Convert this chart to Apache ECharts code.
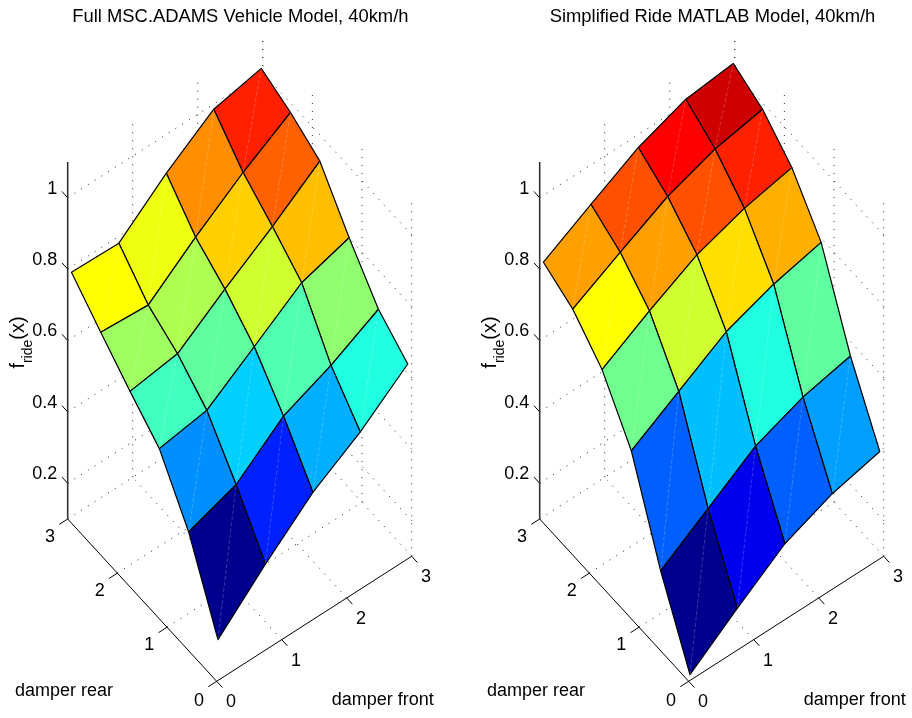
<!DOCTYPE html>
<html>
<head>
<meta charset="utf-8">
<style>
  html, body { margin: 0; padding: 0; background: #fff; }
  #chart { width: 912px; height: 718px; }
</style>
<script src="https://cdn.jsdelivr.net/npm/echarts@6/dist/echarts.min.js"></script>
</head>
<body>
<div id="chart"></div>
<script>
// damper settings of the surface mesh
const frontVals = [0.05, 0.78, 1.51, 2.24, 2.97];
const rearVals = [0.04, 0.63, 1.22, 1.81, 2.40, 2.99];

// f_ride per front setting (row) and rear setting (column)
const adamsFront0 = [0.205, 0.417, 0.561, 0.632, 0.708, 0.787];
const adamsFront1 = [0.331, 0.464, 0.583, 0.652, 0.699, 0.783];
const adamsFront2 = [0.447, 0.571, 0.676, 0.748, 0.804, 0.894];
const adamsFront3 = [0.531, 0.628, 0.770, 0.838, 0.900, 0.988];
const adamsFront4 = [0.636, 0.700, 0.811, 0.936, 0.983, 1.017];

const matlabFront0 = [0.107, 0.308, 0.555, 0.693, 0.773, 0.815];
const matlabFront1 = [0.208, 0.397, 0.636, 0.772, 0.847, 0.892];
const matlabFront2 = [0.303, 0.487, 0.718, 0.844, 0.918, 0.966];
const matlabFront3 = [0.358, 0.539, 0.766, 0.889, 0.966, 1.016];
const matlabFront4 = [0.391, 0.569, 0.798, 0.918, 0.992, 1.031];

const adamsZ = [adamsFront0, adamsFront1, adamsFront2, adamsFront3, adamsFront4];
const matlabZ = [matlabFront0, matlabFront1, matlabFront2, matlabFront3, matlabFront4];

const frontTicks = [0, 1, 2, 3];
const rearTicks = [0, 1, 2, 3];
const zTicks = [0.2, 0.4, 0.6, 0.8, 1];
const zMin = 0.1;
const zMax = 1.1;
const axisMax = 3;

const titles = ['Full MSC.ADAMS Vehicle Model, 40km/h', 'Simplified Ride MATLAB Model, 40km/h'];
const fontFamily = '"Liberation Sans", Arial, sans-serif';

// fixed 3d view, written as a map from (front, rear, z) to the 2d axes
function project(f, r, z) {
    return [65 * f - 49.67 * r, 41.67 * f + 54.1 * r + 357 * (z - zMin)];
}

// matlab jet colours
function jet(t) {
    const k = Math.min(64, Math.max(1, Math.floor(t * 63) + 1));
    const clamp = (v) => Math.max(0, Math.min(1, v));
    const r = clamp(Math.min((k - 24) / 16, 1 - (k - 56) / 16));
    const g = clamp(Math.min((k - 8) / 16, (56 - k) / 16));
    const b = clamp(Math.min((k + 8) / 16, (40 - k) / 16));
    return 'rgb(' + Math.round(r * 255) + ',' + Math.round(g * 255) + ',' + Math.round(b * 255) + ')';
}

// dotted grid on the floor and the two back walls
function gridSegments() {
    const segs = [];
    frontTicks.slice(1).forEach((f) => {
        segs.push([[f, 0, zMin], [f, axisMax, zMin]]);
        segs.push([[f, axisMax, zMin], [f, axisMax, zMax]]);
    });
    rearTicks.slice(1).forEach((r) => {
        segs.push([[0, r, zMin], [axisMax, r, zMin]]);
        segs.push([[axisMax, r, zMin], [axisMax, r, zMax]]);
    });
    segs.push([[axisMax, 0, zMin], [axisMax, 0, zMax]]);
    zTicks.forEach((z) => {
        segs.push([[0, axisMax, z], [axisMax, axisMax, z]]);
        segs.push([[axisMax, 0, z], [axisMax, axisMax, z]]);
    });
    return segs;
}

// solid axis lines and their tick marks
function axisSegments() {
    const segs = [
        [[0, 0, zMin], [axisMax, 0, zMin]],
        [[0, 0, zMin], [0, axisMax, zMin]]
    ];
    frontTicks.forEach((f) => segs.push([[f, 0, zMin], [f, -0.115, zMin]]));
    rearTicks.forEach((r) => segs.push([[0, r, zMin], [-0.13, r, zMin]]));
    zTicks.forEach((z) => segs.push([[0, axisMax, z], [0, axisMax + 0.115, z]]));
    return segs;
}

function lineSeries(panel, segs, style) {
    return {
        type: 'custom',
        xAxisIndex: panel,
        yAxisIndex: panel,
        clip: false,
        silent: true,
        animation: false,
        data: segs.map((s, idx) => [idx]),
        renderItem: function (params, api) {
            const seg = segs[params.dataIndex];
            const a = api.coord(project(seg[0][0], seg[0][1], seg[0][2]));
            const b = api.coord(project(seg[1][0], seg[1][1], seg[1][2]));
            return {
                type: 'line',
                shape: { x1: a[0], y1: a[1], x2: b[0], y2: b[1] },
                style: style
            };
        }
    };
}

function surfaceSeries(panel, zData) {
    const flat = zData.reduce((acc, row) => acc.concat(row), []);
    const lo = Math.min.apply(null, flat);
    const hi = Math.max.apply(null, flat);
    const cells = [];
    for (let i = frontVals.length - 2; i >= 0; i--) {
        for (let j = rearVals.length - 2; j >= 0; j--) {
            cells.push([i, j]);
        }
    }
    const pt = (api, i, j) => api.coord(project(frontVals[i], rearVals[j], zData[i][j]));
    return {
        type: 'custom',
        xAxisIndex: panel,
        yAxisIndex: panel,
        clip: false,
        silent: true,
        animation: false,
        z: 3,
        data: cells,
        renderItem: function (params, api) {
            const i = api.value(0);
            const j = api.value(1);
            const a = pt(api, i, j);
            const b = pt(api, i + 1, j);
            const c = pt(api, i + 1, j + 1);
            const d = pt(api, i, j + 1);
            return {
                type: 'group',
                children: [
                    {
                        type: 'polygon',
                        shape: { points: [a, b, c, d] },
                        style: { fill: jet((zData[i][j] - lo) / (hi - lo)), stroke: '#000', lineWidth: 1.2, lineJoin: 'round' }
                    },
                    {
                        // faint seam along the patch diagonal
                        type: 'line',
                        shape: { x1: a[0], y1: a[1], x2: c[0], y2: c[1] },
                        style: { stroke: 'rgba(255,255,255,0.3)', lineWidth: 0.7, lineDash: [4, 2] }
                    }
                ]
            };
        }
    };
}

function textSeries(panel) {
    const labels = [];
    zTicks.forEach((z) => labels.push({ at: [0, axisMax, z], dx: -10.4, dy: -9, text: String(z), align: 'right' }));
    rearTicks.forEach((r) => labels.push({ at: [0, r, zMin], dx: -17.7, dy: r === 0 ? 19.4 : 18, text: String(r), align: 'center' }));
    frontTicks.forEach((f) => labels.push({ at: [f, 0, zMin], dx: 14.3, dy: 21, text: String(f), align: 'center' }));
    labels.push({ at: [0, 0, zMin], dx: -201.7, dy: 10, text: 'damper rear', align: 'left' });
    labels.push({ at: [0, 0, zMin], dx: 115, dy: 19, text: 'damper front', align: 'left' });
    return {
        type: 'custom',
        xAxisIndex: panel,
        yAxisIndex: panel,
        clip: false,
        silent: true,
        animation: false,
        z: 5,
        data: labels.map((l, idx) => [idx]),
        renderItem: function (params, api) {
            const l = labels[params.dataIndex];
            const p = api.coord(project(l.at[0], l.at[1], l.at[2]));
            return {
                type: 'text',
                x: p[0] + l.dx,
                y: p[1] + l.dy,
                style: {
                    text: l.text,
                    fill: '#000',
                    font: '18px ' + fontFamily,
                    textAlign: l.align,
                    textVerticalAlign: 'middle'
                }
            };
        }
    };
}

// f_ride(x) label, rotated, hung off the z axis
function zNameSeries(panel) {
    return {
        type: 'custom',
        xAxisIndex: panel,
        yAxisIndex: panel,
        clip: false,
        silent: true,
        animation: false,
        z: 5,
        data: [[0]],
        renderItem: function (params, api) {
            const p = api.coord(project(0, axisMax, 0.6));
            return {
                type: 'text',
                x: p[0] - 46,
                y: p[1] + 2,
                rotation: Math.PI / 2,
                style: {
                    text: '{m|f}{s|ride}{m|(x)}',
                    fill: '#000',
                    textAlign: 'center',
                    textVerticalAlign: 'middle',
                    rich: {
                        m: { font: '20px ' + fontFamily, lineHeight: 20, verticalAlign: 'top', fill: '#000' },
                        s: { font: '14px ' + fontFamily, lineHeight: 26, verticalAlign: 'bottom', fill: '#000' }
                    }
                }
            };
        }
    };
}

const chart = echarts.init(document.getElementById('chart'), null, { renderer: 'canvas' });

const panelLeft = [56.7, 528.7];
const panelZ = [adamsZ, matlabZ];
const dotted = { stroke: '#222', lineWidth: 1, lineDash: [1, 7] };
const solid = { stroke: '#000', lineWidth: 1 };
const zAxisLine = [[[0, axisMax, zMin], [0, axisMax, zMax]]];

const series = [];
panelLeft.forEach((left, panel) => {
    series.push(lineSeries(panel, gridSegments(), dotted));
    series.push(surfaceSeries(panel, panelZ[panel]));
    series.push(lineSeries(panel, axisSegments(), solid));
    series.push(lineSeries(panel, zAxisLine, { stroke: '#333', lineWidth: 1.6 }));
    series.push(textSeries(panel));
    series.push(zNameSeries(panel));
});

chart.setOption({
    animation: false,
    backgroundColor: '#fff',
    title: titles.map((t, idx) => ({
        text: t,
        left: idx === 0 ? 240.4 : 712.5,
        top: 8,
        padding: 0,
        textAlign: 'center',
        textStyle: { fontFamily: fontFamily, fontSize: 18.4, fontWeight: 'normal', color: '#000' }
    })),
    grid: panelLeft.map((left) => ({ left: left, top: 21.3, width: 360, height: 660 })),
    xAxis: panelLeft.map((left, idx) => ({ type: 'value', gridIndex: idx, min: -160, max: 200, show: false })),
    yAxis: panelLeft.map((left, idx) => ({ type: 'value', gridIndex: idx, min: 0, max: 660, show: false })),
    series: series
});
</script>
</body>
</html>
